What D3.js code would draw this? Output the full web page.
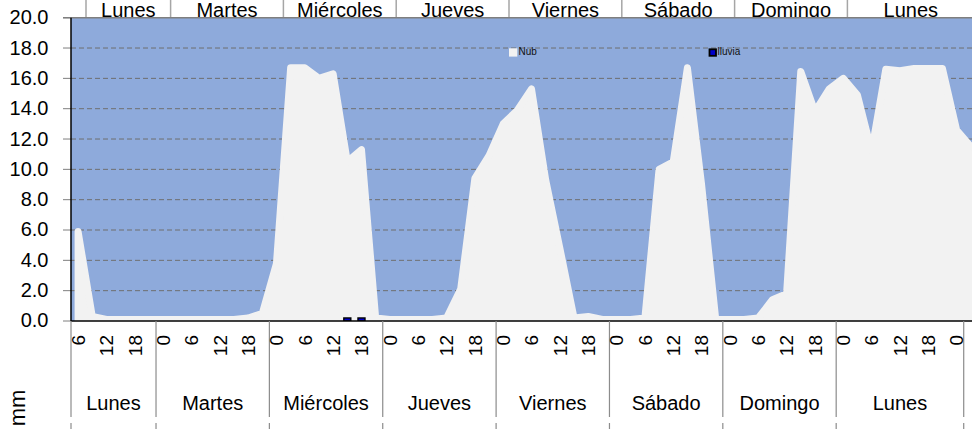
<!DOCTYPE html>
<html>
<head>
<meta charset="utf-8">
<script src="https://cdn.jsdelivr.net/npm/d3@7"></script>
<style>
  html, body { margin: 0; padding: 0; background: #ffffff; overflow: hidden; }
  svg { display: block; font-family: "Liberation Sans", Arial, sans-serif; }
</style>
</head>
<body>
<svg id="chart" width="972" height="429"></svg>
<script>
// ---------------- DATA ----------------
// Day groups on the category axis (3-hourly categories, first one = Lunes 06h)
const dayLabels = ["Lunes", "Martes", "Miércoles", "Jueves", "Viernes", "Sábado", "Domingo", "Lunes"];
const dayGroupSizes = [6, 8, 8, 8, 8, 8, 8, 9];
const startHour = 6;
const stepHours = 3;
const hourTickLabels = ["0", "6", "12", "18"];

// "Nub" series (one value per 3-hour category)
const nub = [
  5.9, 0.3, 0.1, 0.1, 0.1, 0.1,                 // Lunes 6..21
  0.1, 0.1, 0.1, 0.1, 0.1, 0.1, 0.2, 0.5,       // Martes
  3.8, 16.7, 16.7, 16.0, 16.3, 10.5, 11.3, 0.2, // Miércoles
  0.1, 0.1, 0.1, 0.1, 0.2, 2.1, 9.4, 10.9,      // Jueves
  13.0, 13.9, 15.3, 9.3, 4.8, 0.2, 0.3, 0.1,    // Viernes
  0.1, 0.1, 0.2, 10.0, 10.5, 16.7, 9.0, 0.1,    // Sábado
  0.1, 0.1, 0.2, 1.4, 1.8, 16.45, 13.8, 15.3,   // Domingo
  16.0, 14.9, 11.2, 16.6, 16.5, 16.65, 16.65, 16.65, 12.6, // Lunes 0..21, 0
  11.5, 11.0                                     // (continues past the right edge)
];
// "lluvia" series (mm), null where nothing is drawn
const lluvia = nub.map(() => null);
lluvia[19] = 0.2;
lluvia[20] = 0.2;

const yTicks = [0, 2, 4, 6, 8, 10, 12, 14, 16, 18, 20];
const seriesNames = ["Nub", "lluvia"];
const yTitle = "mm";

// ---------------- LAYOUT ----------------
const svg = d3.select("#chart");
const W = 972, H = 429;
const plotLeft = 71, plotTop = 17.7, plotBottom = 321;
const catW = 14.17;
const nCat = nub.length;

const x = d3.scaleBand().domain(d3.range(nCat))
  .range([plotLeft, plotLeft + nCat * catW]).padding(0);
const cx = i => x(i) + x.bandwidth() / 2;
const y = d3.scaleLinear().domain([0, 20]).range([plotBottom, plotTop]);

// header scale (top band of day names, slightly offset)
const topCatW = 14.1;
const xTop = d3.scaleLinear().domain([0, nCat]).range([86, 86 + nCat * topCatW]);

const blue = "#8eaadb";
const gray = "#f2f2f2";

// group boundaries
const groupStarts = [];
let acc = 0;
dayGroupSizes.forEach(s => { groupStarts.push(acc); acc += s; });
const groupEnds = groupStarts.map((s, k) => s + dayGroupSizes[k]);
const nLabelled = groupEnds[groupEnds.length - 1];

// ---------------- TOP HEADER ----------------
const header = svg.append("g");
groupStarts.concat([nLabelled]).forEach(s => {
  header.append("line")
    .attr("x1", xTop(s)).attr("x2", xTop(s))
    .attr("y1", 0).attr("y2", plotTop)
    .attr("stroke", "#a6a6a6").attr("stroke-width", 1.5);
});
dayLabels.forEach((d, k) => {
  header.append("text")
    .attr("x", (xTop(groupStarts[k]) + xTop(groupEnds[k])) / 2)
    .attr("y", 16.8)
    .attr("text-anchor", "middle")
    .attr("font-size", 20)
    .attr("fill", "#000")
    .text(d);
});

// ---------------- PLOT AREA ----------------
svg.append("defs").append("clipPath").attr("id", "plotClip")
  .append("rect")
  .attr("x", plotLeft).attr("y", plotTop)
  .attr("width", W - plotLeft).attr("height", plotBottom - plotTop);

const plot = svg.append("g").attr("clip-path", "url(#plotClip)");
plot.append("rect")
  .attr("x", plotLeft).attr("y", plotTop)
  .attr("width", W - plotLeft).attr("height", plotBottom - plotTop)
  .attr("fill", blue);

// gridlines (dashed) behind the area
yTicks.filter(t => t > 0 && t < 20).forEach(t => {
  plot.append("line")
    .attr("x1", plotLeft).attr("x2", W)
    .attr("y1", y(t)).attr("y2", y(t))
    .attr("stroke", "#6f6f6f").attr("stroke-width", 1)
    .attr("stroke-dasharray", "5,3");
});

// Nub area
const area = d3.area()
  .x((d, i) => cx(i))
  .y0(y(0))
  .y1(d => y(d));
plot.append("path")
  .datum(nub)
  .attr("d", area)
  .attr("fill", gray)
  .attr("stroke", gray)
  .attr("stroke-width", 7)
  .attr("stroke-linejoin", "round");

// lluvia bars
plot.selectAll("rect.rain")
  .data(lluvia.map((v, i) => ({ v, i })).filter(d => d.v !== null))
  .enter().append("rect")
  .attr("class", "rain")
  .attr("x", d => cx(d.i) - 3.5)
  .attr("width", 7)
  .attr("y", d => y(d.v))
  .attr("height", d => y(0) - y(d.v))
  .attr("fill", "#0000cc")
  .attr("stroke", "#000")
  .attr("stroke-width", 1.4);

// top line (20.0)
svg.append("line")
  .attr("x1", plotLeft - 8).attr("x2", W)
  .attr("y1", y(20)).attr("y2", y(20))
  .attr("stroke", "#7f7f7f").attr("stroke-width", 1.5);

// ---------------- Y AXIS ----------------
const yAxisG = svg.append("g");
yTicks.forEach(t => {
  yAxisG.append("line")
    .attr("x1", plotLeft - 8).attr("x2", plotLeft)
    .attr("y1", y(t)).attr("y2", y(t))
    .attr("stroke", "#7f7f7f").attr("stroke-width", 1);
  yAxisG.append("text")
    .attr("x", 48.5).attr("y", y(t) + 1.2)
    .attr("text-anchor", "end")
    .attr("dominant-baseline", "middle")
    .attr("font-size", 20)
    .attr("fill", "#000")
    .text(d3.format(".1f")(t));
});
svg.append("line")
  .attr("x1", plotLeft).attr("x2", plotLeft)
  .attr("y1", plotTop).attr("y2", plotBottom)
  .attr("stroke", "#000").attr("stroke-width", 1.5);

// ---------------- X AXIS ----------------
svg.append("line")
  .attr("x1", plotLeft).attr("x2", W)
  .attr("y1", plotBottom).attr("y2", plotBottom)
  .attr("stroke", "#000").attr("stroke-width", 1.5);

// group separators below the axis
groupStarts.concat([nLabelled]).forEach(s => {
  const xs = x(s);
  svg.append("line")
    .attr("x1", xs).attr("x2", xs)
    .attr("y1", plotBottom).attr("y2", 417)
    .attr("stroke", "#8c8c8c").attr("stroke-width", 1.2);
  svg.append("line")
    .attr("x1", xs).attr("x2", xs)
    .attr("y1", 423).attr("y2", H)
    .attr("stroke", "#8c8c8c").attr("stroke-width", 1.2);
});

// hour tick labels (every 6 h) for the labelled categories
d3.range(nLabelled).forEach(i => {
  const h = (startHour + stepHours * i) % 24;
  const lab = String(h);
  if (!hourTickLabels.includes(lab)) return;
  svg.append("text")
    .attr("transform", `translate(${cx(i)},335) rotate(-90)`)
    .attr("text-anchor", "end")
    .attr("dy", "0.36em")
    .attr("font-size", 19)
    .attr("fill", "#000")
    .text(lab);
});

// day labels below
dayLabels.forEach((d, k) => {
  const a = x(groupStarts[k]);
  const b = x(groupEnds[k]);
  svg.append("text")
    .attr("x", (a + b) / 2).attr("y", 410)
    .attr("text-anchor", "middle")
    .attr("font-size", 20)
    .attr("fill", "#000")
    .text(d);
});

// y title
svg.append("text")
  .attr("transform", "translate(25,408) rotate(-90)")
  .attr("text-anchor", "middle")
  .attr("font-size", 22)
  .attr("fill", "#000")
  .text(yTitle);

// ---------------- LEGEND ----------------
const lg = svg.append("g");
lg.append("rect").attr("x", 509).attr("y", 48.3).attr("width", 8.3).attr("height", 8.3)
  .attr("fill", gray);
lg.append("text").attr("x", 518.5).attr("y", 52.8)
  .attr("dominant-baseline", "middle").attr("font-size", 10).attr("fill", "#111")
  .text(seriesNames[0]);
lg.append("rect").attr("x", 709.5).attr("y", 49.3).attr("width", 6.5).attr("height", 6.5)
  .attr("fill", "#0000cc").attr("stroke", "#000").attr("stroke-width", 1.8);
lg.append("text").attr("x", 717.5).attr("y", 52.8)
  .attr("dominant-baseline", "middle").attr("font-size", 10).attr("fill", "#111")
  .text(seriesNames[1]);
</script>
</body>
</html>
